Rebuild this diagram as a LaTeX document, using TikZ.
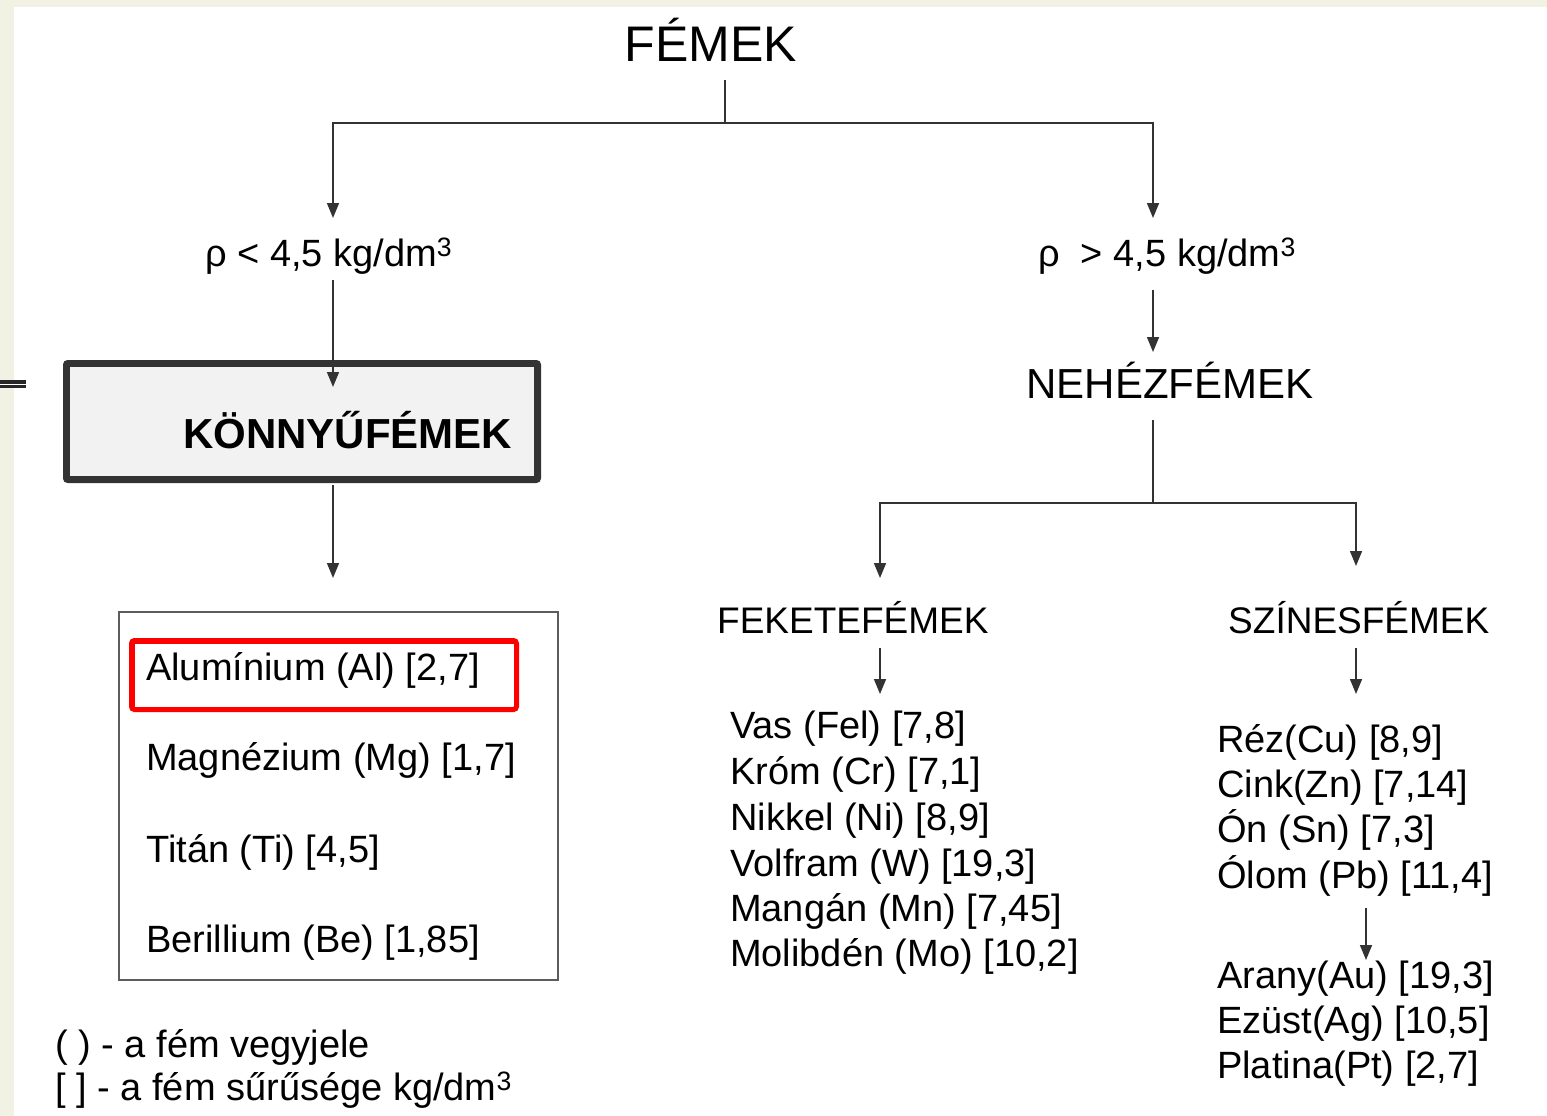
\documentclass[tikz,border=0pt]{standalone}
\usepackage{fontspec}
\setmainfont{Liberation Sans}
\usetikzlibrary{arrows.meta}
\definecolor{cream}{HTML}{F2F2E4}
\definecolor{ln}{HTML}{333333}
\definecolor{boxgray}{HTML}{F2F2F2}
\definecolor{redbox}{HTML}{FF0000}
\begin{document}
\begin{tikzpicture}[x=1pt,y=-1pt,
  conn/.style={draw=ln, line width=1.6pt},
  arr/.style={conn, -{Triangle[width=12pt,length=15pt]}},
  txt/.style={inner sep=0pt, anchor=base west, font=\fontsize{38}{45}\selectfont},
  ttl/.style={inner sep=0pt, anchor=base, font=\fontsize{42}{50}\selectfont},
  sub/.style={inner sep=0pt, anchor=base west, font=\fontsize{37}{44}\selectfont},
]
\useasboundingbox (0,0) rectangle (1547,1116);
\fill[cream] (0,0) rectangle (1547,1116);
\fill[white] (14,7) rectangle (1547,1116);
% left edge mark
\draw[black!85, line width=8pt] (0,384) -- (26,384);
\draw[white, line width=1pt] (0,384) -- (26,384);

% top
\node[ttl, font=\fontsize{50}{58}\selectfont] (femek) at (711,62) {FÉMEK};
\node[txt] (rho1) at (205,266) {ρ < 4,5 kg/dm\textsuperscript{3}};
\node[txt] (rho2) at (1038,266) {ρ\ \ > 4,5 kg/dm\textsuperscript{3}};

\coordinate (fTop) at (725,80);
\coordinate (fBr) at (725,123);
\coordinate (lA) at (333,218);
\coordinate (rA) at (1153,218);
\draw[conn] (fTop) -- (fBr);
\draw[arr] (fBr) -| (lA);
\draw[arr] (fBr) -| (rA);

% light metals box
\node[draw=ln, line width=6pt, fill=boxgray, rounded corners=2pt,
      minimum width=472pt, minimum height=117pt, inner sep=0pt] (konnybox) at (302,421.5) {};
\draw[ln, line width=1pt] ([shift={(6.5,6.5)}]konnybox.north west) rectangle ([shift={(-6.5,-6.5)}]konnybox.south east);
\node[txt, font=\bfseries\fontsize{42}{50}\selectfont] (konny) at (183,448) {KÖNNYŰFÉMEK};

\coordinate (l1s) at (333,280);
\coordinate (l1e) at (333,387);
\draw[arr] (l1s) -- (l1e);
\coordinate (l2s) at (333,485);
\coordinate (l2e) at (333,578);
\draw[arr] (l2s) -- (l2e);

% list box
\node[draw=ln!80, line width=1.5pt, minimum width=439pt, minimum height=368pt, inner sep=0pt] (listbox) at (338.5,796) {};
\node[draw=redbox, line width=5pt, rounded corners=3pt, fill=white,
      minimum width=385pt, minimum height=69pt, inner sep=0pt] (redb) at (324,675) {};
\draw[redbox, line width=1pt] ([shift={(5,5)}]redb.north west) rectangle ([shift={(-5,-5)}]redb.south east);
\node[txt] (alu) at (146,680) {Alumínium (Al) [2,7]};
\node[txt] (mg) at (146,770) {Magnézium (Mg) [1,7]};
\node[txt] (ti) at (146,862) {Titán (Ti) [4,5]};
\node[txt] (be) at (146,952) {Berillium (Be) [1,85]};

% legend
\node[txt] (leg1) at (55,1057) {( ) - a fém vegyjele};
\node[txt] (leg2) at (55,1100) {[ ] - a fém sűrűsége kg/dm\textsuperscript{3}};

% right side
\coordinate (r1s) at (1153,290);
\coordinate (r1e) at (1153,352);
\draw[arr] (r1s) -- (r1e);
\node[ttl] (nehez) at (1170,398) {NEHÉZFÉMEK};
\coordinate (nTop) at (1153,420);
\coordinate (nBr) at (1153,503);
\coordinate (fkA) at (880,578);
\coordinate (szA) at (1356,566);
\draw[conn] (nTop) -- (nBr);
\draw[arr] (nBr) -| (fkA);
\draw[arr] (nBr) -| (szA);

\node[sub] (fekete) at (717,633) {FEKETEFÉMEK};
\node[sub] (szines) at (1228,633) {SZÍNESFÉMEK};
\coordinate (fk1) at (880,648);
\coordinate (fk2) at (880,694);
\draw[arr] (fk1) -- (fk2);
\coordinate (sz1) at (1356,648);
\coordinate (sz2) at (1356,694);
\draw[arr] (sz1) -- (sz2);

\node[txt] (vas) at (730,738) {Vas (Fel) [7,8]};
\node[txt] (krom) at (730,784) {Króm (Cr) [7,1]};
\node[txt] (nikkel) at (730,830) {Nikkel (Ni) [8,9]};
\node[txt] (volfram) at (730,876) {Volfram (W) [19,3]};
\node[txt] (mangan) at (730,921) {Mangán (Mn) [7,45]};
\node[txt] (molib) at (730,966) {Molibdén (Mo) [10,2]};

\node[txt] (rez) at (1217,752) {Réz(Cu) [8,9]};
\node[txt] (cink) at (1217,797) {Cink(Zn) [7,14]};
\node[txt] (on) at (1217,842) {Ón (Sn) [7,3]};
\node[txt] (olom) at (1217,888) {Ólom (Pb) [11,4]};
\coordinate (ol1) at (1366,908);
\coordinate (ol2) at (1366,960);
\draw[arr] (ol1) -- (ol2);
\node[txt] (arany) at (1217,988) {Arany(Au) [19,3]};
\node[txt] (ezust) at (1217,1033) {Ezüst(Ag) [10,5]};
\node[txt] (platina) at (1217,1078) {Platina(Pt) [2,7]};
\end{tikzpicture}
\end{document}
